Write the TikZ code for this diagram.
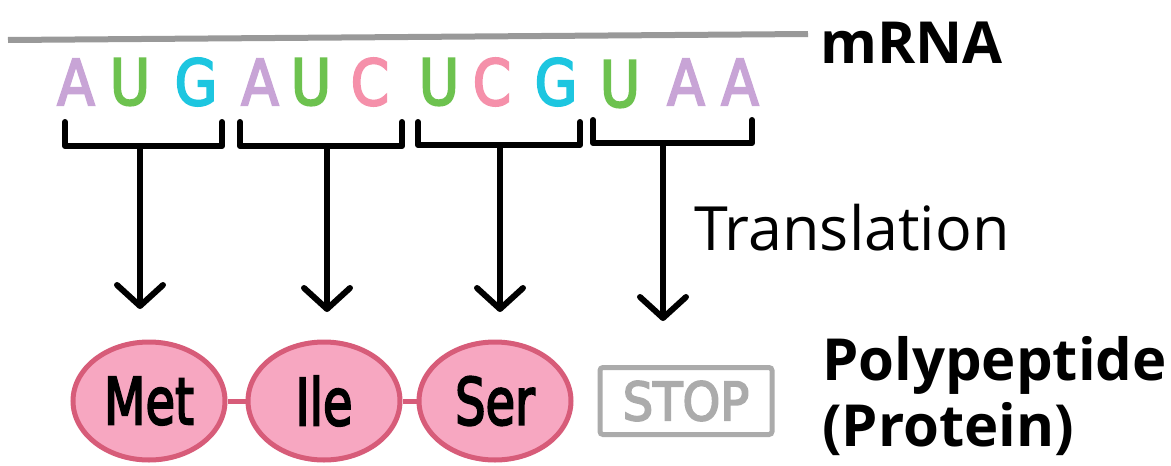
\documentclass[tikz,border=0pt]{standalone}
\usepackage{fontspec}
\usepackage{graphicx}
\setmainfont{Open Sans}
\newfontfamily\hand{DejaVu Sans}[FakeBold=3.5]
\usetikzlibrary{shapes.geometric,arrows.meta}
\definecolor{cA}{HTML}{C8A4D6}
\definecolor{cU}{HTML}{6DC24F}
\definecolor{cG}{HTML}{1DC6E0}
\definecolor{cC}{HTML}{F590AA}
\definecolor{aafill}{HTML}{F7A7C1}
\definecolor{aaedge}{HTML}{D75C79}
\definecolor{stopgray}{HTML}{ABABAB}
\definecolor{linegray}{HTML}{999999}
\tikzset{
  mrnaline/.style={draw=linegray,line width=6pt},
  letter/.style={font=\hand\fontsize{55}{55}\selectfont,inner sep=0pt},
  bracketline/.style={draw=black,line width=6pt,line cap=round,line join=round},
  stem/.style={draw=black,line width=6pt,line cap=round,-{Straight Barb[length=21pt,width=46pt,line cap=round,line join=round]}},
  aa/.style={ellipse,draw=aaedge,fill=aafill,line width=5pt,minimum width=152pt,minimum height=118pt,inner sep=0pt,font=\hand\fontsize{48}{48}\selectfont},
  bond/.style={draw=aaedge,line width=5pt},
  stopbox/.style={draw=stopgray,line width=5pt,rounded corners=3pt,minimum width=172pt,minimum height=67pt,inner sep=0pt,text=stopgray,font=\hand\fontsize{48}{48}\selectfont},
  boldlabel/.style={font=\bfseries\fontsize{58}{66}\selectfont,inner sep=0pt,align=left},
  plainlabel/.style={font=\fontsize{61}{61}\selectfont,inner sep=0pt}
}
\begin{document}
\begin{tikzpicture}[x=1pt,y=-1pt]
\useasboundingbox (0,0) rectangle (1171,466);
% mRNA strand
\coordinate (s0) at (8,40);
\coordinate (s1) at (808,34);
\draw[mrnaline] (s0) -- (s1);
\node[boldlabel,anchor=base west] (mrna) at (820,63) {mRNA};
% bases
\node[letter,text=cA] (n1) at (76,82) {\scalebox{1}[1.15]{A}};
\node[letter,text=cU] (n2) at (130,82) {\scalebox{1}[1.15]{U}};
\node[letter,text=cG] (n3) at (196,82) {\scalebox{1}[1.15]{G}};
\node[letter,text=cA] (n4) at (260,82) {\scalebox{1}[1.15]{A}};
\node[letter,text=cU] (n5) at (311,82) {\scalebox{1}[1.15]{U}};
\node[letter,text=cC] (n6) at (370,82) {\scalebox{1}[1.15]{C}};
\node[letter,text=cU] (n7) at (439,82) {\scalebox{1}[1.15]{U}};
\node[letter,text=cC] (n8) at (492,82) {\scalebox{1}[1.15]{C}};
\node[letter,text=cG] (n9) at (556,82) {\scalebox{1}[1.15]{G}};
\node[letter,text=cU] (n10) at (620,84) {\scalebox{1}[1.15]{U}};
\node[letter,text=cA] (n11) at (686,82) {\scalebox{1}[1.15]{A}};
\node[letter,text=cA] (n12) at (740,82) {\scalebox{1}[1.15]{A}};
% codon brackets
\draw[bracketline] (65,122) -- (65,146) -- (222,146) -- (222,122);
\draw[bracketline] (240,122) -- (240,146) -- (402,146) -- (402,122);
\draw[bracketline] (418,122) -- (418,145) -- (580,145) -- (580,122);
\draw[bracketline] (593,120) -- (593,143) -- (752,143) -- (752,120);
\coordinate (b1) at (140,146);
\coordinate (b2) at (327,146);
\coordinate (b3) at (500,145);
\coordinate (b4) at (663,143);
\coordinate (t1) at (140,309);
\coordinate (t2) at (327,312);
\coordinate (t3) at (500,312);
\coordinate (t4) at (663,321);
\draw[stem] (b1) -- (t1);
\draw[stem] (b2) -- (t2);
\draw[stem] (b3) -- (t3);
\draw[stem] (b4) -- (t4);
\node[plainlabel,anchor=base west] (trans) at (694,250) {Translation};
% amino acids
\node[aa] (met) at (149,401) {\scalebox{1}[1.35]{Met}};
\node[aa] (ile) at (324,401) {\scalebox{1}[1.35]{Ile}};
\node[aa] (ser) at (495,401) {\scalebox{1}[1.35]{Ser}};
\draw[bond] (met.east) -- (ile.west);
\draw[bond] (ile.east) -- (ser.west);
\node[stopbox] (stop) at (686,401) {\scalebox{1}[1.1]{STOP}};
\node[boldlabel,anchor=base west] (poly) at (822,380) {Polypeptide};
\node[boldlabel,anchor=base west] (prot) at (822,446) {(Protein)};
\end{tikzpicture}
\end{document}
